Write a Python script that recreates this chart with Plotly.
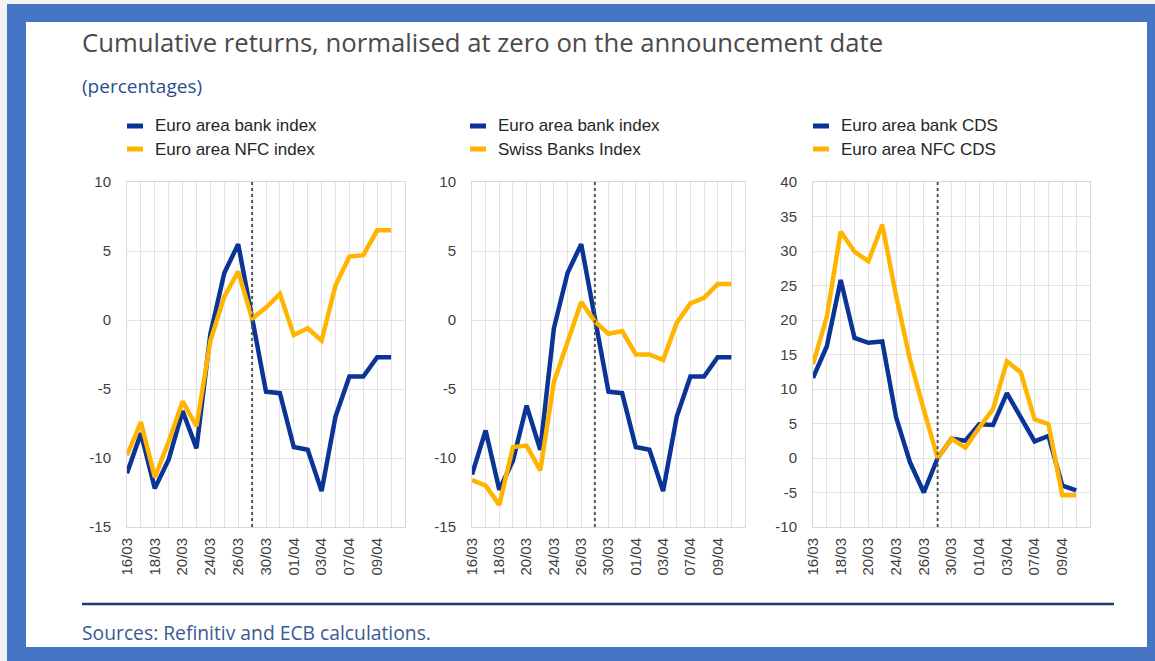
import plotly.graph_objects as go

# ---------------- data ----------------
dates = ["16/03", "17/03", "18/03", "19/03", "20/03", "23/03", "24/03", "25/03", "26/03", "27/03",
         "30/03", "31/03", "01/04", "02/04", "03/04", "06/04", "07/04", "08/04", "09/04", "14/04"]
tick_labels = ["16/03", "", "18/03", "", "20/03", "", "24/03", "", "26/03", "",
               "30/03", "", "01/04", "", "03/04", "", "07/04", "", "09/04", ""]
announcement = "27/03"

y_ticks_12 = [-15, -10, -5, 0, 5, 10]
y_ticks_12_text = ["-15", "-10", "-5", "0", "5", "10"]
y_ticks_3 = [-10, -5, 0, 5, 10, 15, 20, 25, 30, 35, 40]
y_ticks_3_text = ["-10", "-5", "0", "5", "10", "15", "20", "25", "30", "35", "40"]

# panel 1
p1_names = ["Euro area bank index", "Euro area NFC index"]
p1_bank = [-11.1, -8.2, -12.2, -10.1, -6.6, -9.3, -1.0, 3.4, 5.5, 0.0,
           -5.2, -5.3, -9.2, -9.4, -12.4, -7.0, -4.1, -4.1, -2.7, -2.7]
p1_nfc = [-9.8, -7.4, -11.4, -8.8, -5.9, -7.7, -1.5, 1.7, 3.5, 0.1,
          0.9, 1.9, -1.1, -0.6, -1.5, 2.5, 4.6, 4.7, 6.5, 6.5]

# panel 2
p2_names = ["Euro area bank index", "Swiss Banks Index"]
p2_bank = [-11.2, -8.0, -12.3, -10.2, -6.2, -9.4, -0.6, 3.4, 5.5, 0.0,
           -5.2, -5.3, -9.2, -9.4, -12.4, -7.0, -4.1, -4.1, -2.7, -2.7]
p2_swiss = [-11.6, -12.0, -13.4, -9.2, -9.1, -10.9, -4.5, -1.7, 1.3, -0.1,
            -1.0, -0.8, -2.5, -2.5, -2.9, -0.2, 1.2, 1.6, 2.6, 2.6]

# panel 3
p3_names = ["Euro area bank CDS", "Euro area NFC CDS"]
p3_bank = [11.6, 16.2, 25.8, 17.4, 16.7, 16.9, 5.9, -0.6, -5.0, 0.0,
           2.8, 2.5, 4.9, 4.8, 9.4, 6.0, 2.4, 3.2, -4.0, -4.7]
p3_nfc = [13.6, 20.5, 32.8, 29.9, 28.5, 33.8, 23.5, 14.3, 7.0, 0.0,
          2.8, 1.5, 4.4, 7.1, 14.0, 12.4, 5.6, 4.9, -5.4, -5.4]

title = "Cumulative returns, normalised at zero on the announcement date"
subtitle = "(percentages)"
source = "Sources: Refinitiv and ECB calculations."

# ---------------- styling ----------------
PAGE_MARGIN = 8          # default body margin of the browser page
W, H = 1155 - 2 * PAGE_MARGIN, 661 - 2 * PAGE_MARGIN
BLUE = "#0a3597"
YELLOW = "#ffb400"
FRAME = "#4775c5"
GRID = "#e3e3e3"
SANS = "Liberation Sans, Arial, sans-serif"
TICKFONT = dict(family=SANS, size=15, color="#404040")


def px_x(v):
    """page pixel -> paper fraction"""
    return (v - PAGE_MARGIN) / W


def px_y(v):
    return 1 - (v - PAGE_MARGIN) / H


panels = [
    dict(names=p1_names, series=[p1_bank, p1_nfc], xd=(127, 405), yr=[-15, 10],
         tv=y_ticks_12, tt=y_ticks_12_text, leg_x=127),
    dict(names=p2_names, series=[p2_bank, p2_swiss], xd=(472, 745), yr=[-15, 10],
         tv=y_ticks_12, tt=y_ticks_12_text, leg_x=470),
    dict(names=p3_names, series=[p3_bank, p3_nfc], xd=(813, 1090), yr=[-10, 40],
         tv=y_ticks_3, tt=y_ticks_3_text, leg_x=813),
]
plot_top, plot_bottom = 182, 527

fig = go.Figure()
shapes = []
annotations = []

# white inner panel of the frame (paper background is the frame blue)
shapes.append(dict(type="rect", xref="paper", yref="paper", x0=px_x(26), x1=px_x(1147),
                   y0=px_y(647), y1=px_y(22), fillcolor="white", line=dict(width=0), layer="below"))

for i, p in enumerate(panels):
    n = "" if i == 0 else str(i + 1)
    xa, ya = "x" + n, "y" + n
    for name, vals, col in zip(p["names"], p["series"], [BLUE, YELLOW]):
        fig.add_trace(go.Scatter(x=dates, y=vals, mode="lines", name=name, xaxis=xa, yaxis=ya,
                                 line=dict(color=col, width=4.5), showlegend=False,
                                 hoverinfo="skip"))
    axis_common = dict(showgrid=True, gridcolor=GRID, gridwidth=1, zeroline=False,
                       showline=True, mirror=True, linecolor="#d9d9d9", linewidth=1,
                       tickfont=TICKFONT, automargin=False, fixedrange=True)
    fig.update_layout(**{
        "xaxis" + n: dict(axis_common, type="category", domain=[px_x(p["xd"][0]), px_x(p["xd"][1])],
                          range=[0, len(dates)], tickmode="array", tickvals=dates, ticktext=tick_labels,
                          tickangle=-90, ticks="", anchor=ya, ticklabelstandoff=4),
        "yaxis" + n: dict(axis_common, domain=[px_y(plot_bottom), px_y(plot_top)], range=p["yr"],
                          tickmode="array", tickvals=p["tv"], ticktext=p["tt"],
                          anchor=xa, ticks="", ticklabelstandoff=12),
    })
    # announcement date line
    shapes.append(dict(type="line", xref=xa, yref=ya + " domain", x0=announcement, x1=announcement,
                       y0=0, y1=1, line=dict(color="#555555", width=2, dash="dot")))
    # legend (manual)
    for j, (name, col) in enumerate(zip(p["names"], [BLUE, YELLOW])):
        yy = 126 + j * 23
        shapes.append(dict(type="line", xref="paper", yref="paper", x0=px_x(p["leg_x"]),
                           x1=px_x(p["leg_x"] + 16), y0=px_y(yy), y1=px_y(yy),
                           line=dict(color=col, width=5)))
        annotations.append(dict(text=name, xref="paper", yref="paper", x=px_x(p["leg_x"] + 26),
                                y=px_y(yy), xanchor="left", yanchor="middle", showarrow=False,
                                font=dict(family=SANS, size=17, color="#262626")))

# bottom rule
shapes.append(dict(type="line", xref="paper", yref="paper", x0=px_x(82), x1=px_x(1114),
                   y0=px_y(604), y1=px_y(604), line=dict(color="#1f3a7a", width=2.5)))

annotations.append(dict(text=title, xref="paper", yref="paper", x=px_x(80), y=px_y(42),
                        xanchor="left", yanchor="middle", showarrow=False,
                        font=dict(family="Open Sans, sans-serif", size=25.7, color="#4a4a4a")))
annotations.append(dict(text=subtitle, xref="paper", yref="paper", x=px_x(80), y=px_y(86),
                        xanchor="left", yanchor="middle", showarrow=False,
                        font=dict(family="Open Sans, sans-serif", size=19, color="#2e4d8f")))
annotations.append(dict(text=source, xref="paper", yref="paper", x=px_x(80), y=px_y(632),
                        xanchor="left", yanchor="middle", showarrow=False,
                        font=dict(family="Open Sans, sans-serif", size=19.3, color="#3b5a92")))

fig.update_layout(width=W, height=H, autosize=False, margin=dict(l=0, r=0, t=0, b=0, pad=0),
                  paper_bgcolor=FRAME, plot_bgcolor="rgba(0,0,0,0)",
                  shapes=shapes, annotations=annotations, showlegend=False, hovermode=False)

page_bg = ("linear-gradient(#f2f2f2,#f2f2f2) 0 0/100% 4px no-repeat, "
           "linear-gradient(#f2f2f2,#f2f2f2) 0 0/7px 100% no-repeat, " + FRAME)
fig.write_html("out.html", config={"displayModeBar": False, "staticPlot": True},
               post_script="document.body.style.background='" + page_bg + "';")
